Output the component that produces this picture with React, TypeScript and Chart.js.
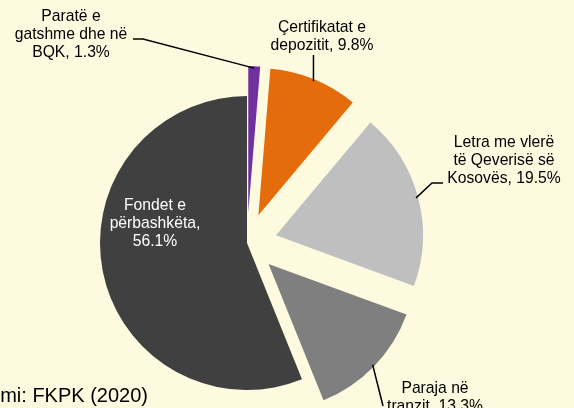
import { useEffect, useRef } from 'react';
import { Chart, registerables, PieController } from 'chart.js';

Chart.register(...registerables);

// ---- data ----
const categories = [
  'Paratë e gatshme dhe në BQK',
  'Çertifikatat e depozitit',
  'Letra me vlerë të Qeverisë së Kosovës',
  'Paraja në tranzit',
  'Fondet e përbashkëta',
];
const shares = [1.3, 9.8, 19.5, 13.3, 56.1];
// wrapped label lines ({v} = share)
const labelLines = [
  ['Paratë e', 'gatshme dhe në', 'BQK, {v}'],
  ['Çertifikatat e', 'depozitit, {v}'],
  ['Letra me vlerë', 'të Qeverisë së', 'Kosovës, {v}'],
  ['Paraja në', 'tranzit, {v}'],
  ['Fondet e', 'përbashkëta,', '{v}'],
];
const sourceText = 'Burimi: FKPK (2020)';

// ---- styles ----
const colors = ['#7030A0', '#E46C0A', '#BFBFBF', '#7F7F7F', '#404040'];
const explode = [30, 30, 30, 30, 0];
const BG = '#FEFAE0';
const FONT = '15.7px "Liberation Sans", Arial, sans-serif';

// label placement: text centre x, first baseline y, colour, leader start points
const labelPlace = [
  { x: 71, y: 21, color: '#000', leader: [[133, 39], [143, 39]] },
  { x: 322, y: 32, color: '#000', leader: [[-1, 55]] },
  { x: 504, y: 147, color: '#000', leader: [[443, 183], [432, 183]] },
  { x: 435, y: 393, color: '#000', leader: [[383, 406]] },
  { x: 155, y: 210, color: '#fff', leader: [] },
];

class ExplodedPie extends PieController {
  static id = 'explodedPie';
  draw() {
    const ctx = this.chart.ctx;
    const meta = this._cachedMeta;
    const ex = this.getDataset().explode || [];
    meta.data.forEach((arc: any, i: number) => {
      const e = ex[i] || 0;
      const half = (arc.startAngle + arc.endAngle) / 2;
      ctx.save();
      ctx.translate(Math.cos(half) * e, Math.sin(half) * e);
      arc.draw(ctx);
      ctx.restore();
    });
  }
}
Chart.register(ExplodedPie as any);

const labelPlugin = {
  id: 'sliceLabels',
  afterDraw(chart: any) {
    const ctx = chart.ctx;
    const meta = chart.getDatasetMeta(0);
    ctx.save();
    ctx.font = FONT;
    ctx.textAlign = 'center';
    ctx.textBaseline = 'alphabetic';
    meta.data.forEach((arc: any, i: number) => {
      const p = labelPlace[i];
      const e = explode[i] || 0;
      const half = (arc.startAngle + arc.endAngle) / 2;
      const r = arc.outerRadius - 2;
      const ax = arc.x + Math.cos(half) * (e + r);
      const ay = arc.y + Math.sin(half) * (e + r);
      if (p.leader.length) {
        ctx.beginPath();
        ctx.strokeStyle = '#000';
        ctx.lineWidth = 1.5;
        p.leader.forEach((pt, k) => {
          const x = pt[0] < 0 ? ax : pt[0];
          if (k === 0) ctx.moveTo(x, pt[1]);
          else ctx.lineTo(x, pt[1]);
        });
        ctx.lineTo(ax, ay);
        ctx.stroke();
      }
      ctx.fillStyle = p.color;
      labelLines[i].forEach((line, k) => {
        const txt = line.replace('{v}', shares[i].toFixed(1) + '%');
        ctx.fillText(txt, p.x, p.y + k * 18);
      });
    });
    ctx.font = '20px "Liberation Sans", Arial, sans-serif';
    ctx.textAlign = 'right';
    ctx.fillStyle = '#000';
    ctx.fillText(sourceText, 148, 402);
    ctx.restore();
  },
};

export default function App() {
  const ref = useRef<HTMLCanvasElement>(null);
  useEffect(() => {
    if (!ref.current) return;
    const chart = new Chart(ref.current, {
      type: 'explodedPie' as any,
      data: {
        labels: categories,
        datasets: [
          {
            data: shares,
            backgroundColor: colors,
            borderWidth: 0,
            radius: 147,
            explode,
          } as any,
        ],
      },
      options: {
        responsive: false,
        animation: false,
        radius: 147,
        layout: { padding: { left: 0, right: 80, top: 78, bottom: 0 } },
        plugins: { legend: { display: false }, tooltip: { enabled: false } },
        events: [],
      } as any,
      plugins: [labelPlugin],
    });
    return () => chart.destroy();
  }, []);
  return (
    <div style={{ position: 'fixed', left: 0, top: 0, width: 574, height: 408, background: BG, overflow: 'hidden' }}>
      <canvas ref={ref} width={574} height={408} style={{ display: 'block', width: 574, height: 408 }} />
    </div>
  );
}
